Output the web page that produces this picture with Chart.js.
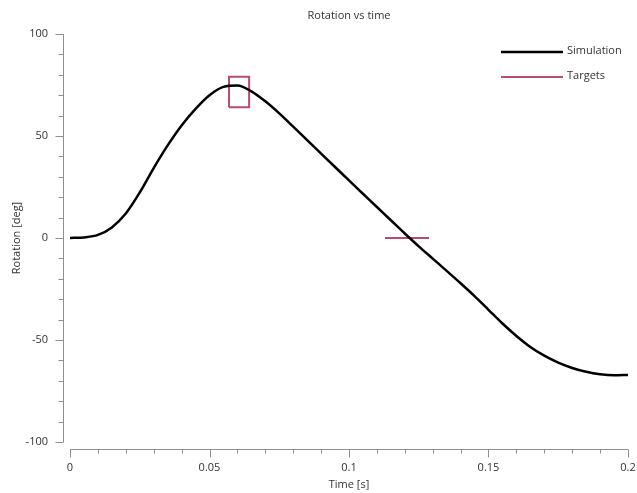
<!DOCTYPE html>
<html>
<head>
<meta charset="utf-8">
<script src="https://cdn.jsdelivr.net/npm/chart.js@4"></script>
<style>
  html, body { margin: 0; padding: 0; background: #fff; }
  #wrap { width: 637px; height: 493px; }
</style>
</head>
<body>
<div id="wrap"><canvas id="myChart" width="637" height="493"></canvas></div>
<script>
const times = [0, 0.005, 0.01, 0.015, 0.02, 0.025, 0.03, 0.035, 0.04, 0.045, 0.05,
  0.055, 0.06, 0.065, 0.07, 0.075, 0.08, 0.085, 0.09, 0.095, 0.1,
  0.105, 0.11, 0.115, 0.12, 0.125, 0.13, 0.135, 0.14, 0.145, 0.15,
  0.155, 0.16, 0.165, 0.17, 0.175, 0.18, 0.185, 0.19, 0.195, 0.2];
const rotation = [0, 0.3, 1.5, 5.2, 12, 22.3, 34.3, 45.4, 55.2, 63.3, 70,
  74.1, 74.8, 71.9, 67, 61.1, 54.6, 48, 41.4, 34.8, 28.2,
  21.7, 15.2, 8.7, 2.2, -4.1, -10.1, -16.1, -22.2, -28.5, -35.2,
  -41.9, -48, -53.4, -57.7, -61.1, -63.7, -65.6, -66.8, -67.3, -67.1];

// target box around the peak and target line at the zero crossing
const targetBoxTimes = [0.057, 0.0642, 0.0642, 0.057, 0.057];
const targetBoxValues = [64.1, 64.1, 79.1, 79.1, 64.1];
const targetLineTimes = [0.1129, 0.1287];
const targetLineValues = [0, 0];

const xTicks = [0, 0.05, 0.1, 0.15, 0.2];
const yTicks = [-100, -50, 0, 50, 100];
const xMinorStep = 0.01;
const yMinorStep = 10;

const targetColor = '#b94a72';
const axisColor = '#8f8f8f';
const textColor = '#333333';

Chart.defaults.font.family = '"Open Sans", sans-serif';
Chart.defaults.font.size = 11;
Chart.defaults.color = textColor;

function toPoints(xs, ys) {
  return xs.map((t, i) => ({ x: t, y: ys[i] }));
}

const axesPlugin = {
  id: 'detachedAxes',
  afterDraw(chart) {
    const { ctx, chartArea, scales } = chart;
    const x = scales.x;
    const y = scales.y;
    ctx.save();
    ctx.strokeStyle = axisColor;
    ctx.lineWidth = 1;

    // y axis
    const ax = Math.round(chartArea.left - 7) + 0.5;
    ctx.beginPath();
    ctx.moveTo(ax, y.getPixelForValue(y.max));
    ctx.lineTo(ax, y.getPixelForValue(y.min));
    const yCount = Math.round((y.max - y.min) / yMinorStep);
    for (let i = 0; i <= yCount; i++) {
      const v = y.min + i * yMinorStep;
      const py = Math.round(y.getPixelForValue(v)) + 0.5;
      const len = yTicks.includes(v) ? 8 : 5;
      ctx.moveTo(ax - len, py);
      ctx.lineTo(ax, py);
    }
    ctx.stroke();

    // x axis
    const ay = Math.round(chartArea.bottom + 7) + 0.5;
    ctx.beginPath();
    ctx.moveTo(x.getPixelForValue(x.min), ay);
    ctx.lineTo(x.getPixelForValue(x.max), ay);
    const xCount = Math.round((x.max - x.min) / xMinorStep);
    for (let i = 0; i <= xCount; i++) {
      const v = +(x.min + i * xMinorStep).toFixed(4);
      const px = Math.round(x.getPixelForValue(v)) + 0.5;
      const len = xTicks.includes(v) ? 8 : 4;
      ctx.moveTo(px, ay);
      ctx.lineTo(px, ay + len);
    }
    ctx.stroke();

    // title
    ctx.fillStyle = textColor;
    ctx.font = '11px "Open Sans", sans-serif';
    ctx.textAlign = 'center';
    ctx.textBaseline = 'middle';
    ctx.fillText('Rotation vs time', (chartArea.left + chartArea.right) / 2, 16);

    // legend
    const entries = chart.data.datasets.filter((d) => d.label);
    entries.forEach((d, i) => {
      const ly = 52 + i * 25;
      ctx.strokeStyle = d.borderColor;
      ctx.lineWidth = d.borderWidth;
      ctx.beginPath();
      ctx.moveTo(501, ly);
      ctx.lineTo(563, ly);
      ctx.stroke();
      ctx.textAlign = 'left';
      ctx.fillText(d.label, 567, ly - 1);
    });
    ctx.restore();
  },
};

const myChart = new Chart(document.getElementById('myChart'), {
  type: 'line',
  data: {
    datasets: [
      {
        label: 'Simulation',
        data: toPoints(times, rotation),
        borderColor: '#000000',
        borderWidth: 2.5,
        pointRadius: 0,
        cubicInterpolationMode: 'monotone',
      },
      {
        label: 'Targets',
        data: toPoints(targetBoxTimes, targetBoxValues),
        borderColor: targetColor,
        borderWidth: 2,
        pointRadius: 0,
        tension: 0,
        borderJoinStyle: 'miter',
      },
      {
        data: toPoints(targetLineTimes, targetLineValues),
        borderColor: targetColor,
        borderWidth: 2,
        pointRadius: 0,
        tension: 0,
      },
    ],
  },
  options: {
    responsive: false,
    animation: false,
    layout: { padding: { top: 34, right: 9, left: 0, bottom: 0 } },
    plugins: {
      legend: { display: false },
      title: { display: false },
      tooltip: { enabled: false },
    },
    scales: {
      x: {
        type: 'linear',
        min: 0,
        max: 0.2,
        afterBuildTicks: (scale) => { scale.ticks = xTicks.map((v) => ({ value: v })); },
        afterFit: (scale) => {
          scale.height = 51;
          scale.paddingLeft = 0;
          scale.paddingRight = 0;
        },
        grid: { display: false },
        border: { display: false },
        ticks: {
          padding: 11,
          maxRotation: 0,
          callback: (v) => String(+v.toFixed(3)),
        },
        title: { display: true, text: 'Time [s]', padding: { top: 0, bottom: 2 } },
      },
      y: {
        min: -100,
        max: 100,
        afterBuildTicks: (scale) => { scale.ticks = yTicks.map((v) => ({ value: v })); },
        afterFit: (scale) => {
          scale.width = 70;
          scale.paddingTop = 0;
          scale.paddingBottom = 0;
        },
        grid: { display: false },
        border: { display: false },
        ticks: { padding: 14 },
        title: { display: true, text: 'Rotation [deg]', padding: { top: 10, bottom: 0 } },
      },
    },
  },
  plugins: [axesPlugin],
});
</script>
</body>
</html>
